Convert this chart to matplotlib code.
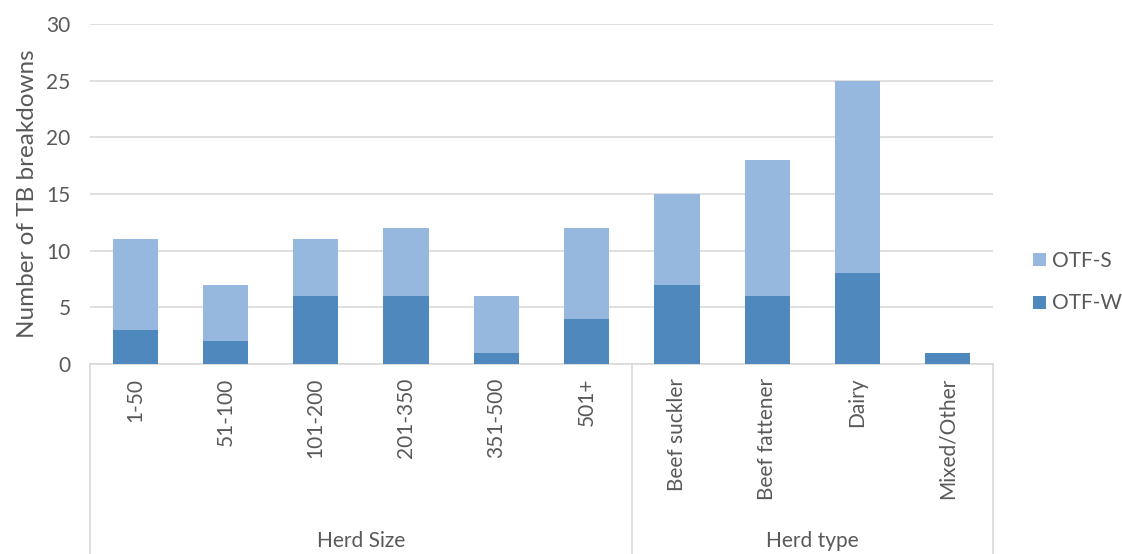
import numpy as np
import matplotlib.pyplot as plt
import matplotlib.transforms as mtransforms

# data
categories = ['1-50', '51-100', '101-200', '201-350', '351-500', '501+',
              'Beef suckler', 'Beef fattener', 'Dairy', 'Mixed/Other']
otf_w = [3, 2, 6, 6, 1, 4, 7, 6, 8, 1]
otf_s = [8, 5, 5, 6, 5, 8, 8, 12, 17, 0]
groups = ['Herd Size', 'Herd type']
group_sizes = [6, 4]

plt.rcParams['font.family'] = ['Lato', 'DejaVu Sans']
grey = '#595959'
c_w = '#4F88BD'
c_s = '#97B8DE'
fs = 15

fig = plt.figure(figsize=(11.22, 5.54), dpi=100)
ax = fig.add_axes([90/1122, 190/554, 903/1122, 340/554])

x = np.arange(len(categories))
ax.bar(x, otf_w, width=0.5, color=c_w, label='OTF-W', zorder=3)
ax.bar(x, otf_s, width=0.5, bottom=otf_w, color=c_s, label='OTF-S', zorder=3)

ax.set_xlim(-0.5, len(categories) - 0.5)
ax.set_ylim(0, 30)
ax.set_yticks(range(0, 31, 5))
ax.yaxis.grid(True, color='#D9D9D9', lw=1.2, zorder=0)
for s in ['top', 'right', 'left']:
    ax.spines[s].set_visible(False)
ax.spines['bottom'].set_color('#D9D9D9')
ax.spines['bottom'].set_linewidth(1.2)
ax.tick_params(axis='y', length=0, labelsize=fs, labelcolor=grey, pad=14)
ax.tick_params(axis='x', length=0)
ax.set_xticks(x)
ax.set_xticklabels(categories, rotation=90, fontsize=fs, color=grey, va='top')
ax.tick_params(axis='x', pad=10)
ax.set_ylabel('Number of TB breakdowns', fontsize=17.5, color=grey, labelpad=6)

# group separators and labels below the axis
trans = mtransforms.blended_transform_factory(ax.transData, ax.transAxes)
edges = np.concatenate([[0], np.cumsum(group_sizes)]) - 0.5
for e in edges:
    ax.plot([e, e], [0, -0.56], transform=trans, color='#D9D9D9', lw=1.2, clip_on=False)
for g, a, b in zip(groups, edges[:-1], edges[1:]):
    ax.text((a + b) / 2, -0.52, g, transform=trans, ha='center', va='center',
            fontsize=fs, color=grey)

h, l = ax.get_legend_handles_labels()
leg = fig.legend(h[::-1], l[::-1], loc='center left', bbox_to_anchor=(1033/1122, 1 - 282/554),
                 frameon=False, fontsize=fs, labelcolor=grey, handlelength=0.6,
                 handleheight=0.6, handletextpad=0.3, labelspacing=1.1,
                 borderpad=0, borderaxespad=0)

plt.savefig('out.png', dpi=100)
